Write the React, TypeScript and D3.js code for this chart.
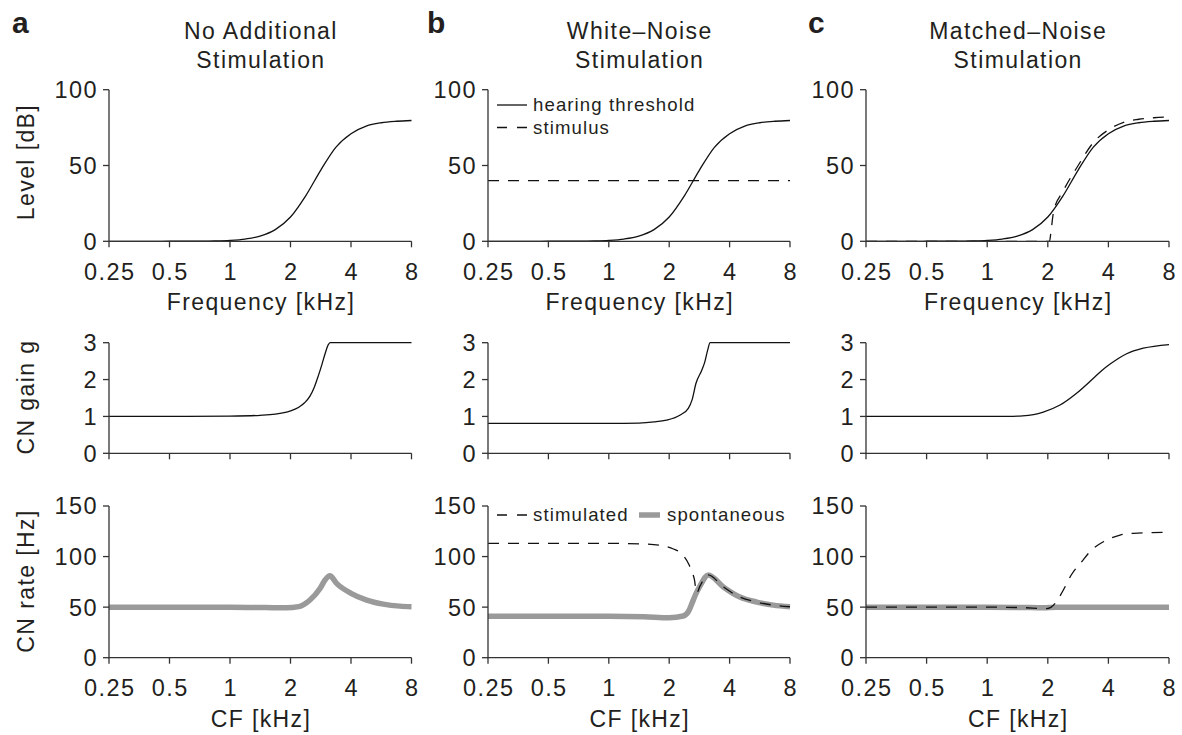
import React from "react";
import * as d3 from "d3";

// frequency axis (kHz, log2)
const FREQ_TICKS = [0.25, 0.5, 1, 2, 4, 8];
const FREQ_LABELS = ["0.25", "0.5", "1", "2", "4", "8"];

// hearing threshold (same in all three columns)
const THR_F = [0.25, 0.297, 0.354, 0.42, 0.5, 0.595, 0.707, 0.841, 1, 1.19, 1.41, 1.68, 2, 2.38, 2.83, 3.36, 4, 4.76, 5.66, 6.73, 8];
const THR_DB = [0, 0, 0, 0, 0.02, 0.05, 0.11, 0.27, 0.63, 1.5, 3.4, 7.7, 16, 30, 47, 62, 71, 76, 78.2, 79.2, 79.7];

// stimulus levels
const WHITE_F = [0.25, 8];
const WHITE_DB = [40, 40];
const MATCHED_F = [0.25, 1, 2.04, 2.08, 2.14, 2.38, 2.83, 3.36, 4, 4.76, 5.66, 6.73, 8];
const MATCHED_DB = [0, 0, 0, 8, 20, 33, 50, 65, 73.5, 78.5, 80.5, 81.5, 82];

// CN gain g
const GAIN_A_F = [0.25, 0.5, 1, 1.41, 1.68, 2, 2.2, 2.35, 2.5, 2.63, 2.75, 2.87, 2.98, 3.08, 3.15, 8];
const GAIN_A = [1, 1, 1.01, 1.03, 1.06, 1.15, 1.25, 1.37, 1.55, 1.8, 2.1, 2.42, 2.72, 2.94, 3, 3];
const GAIN_B_F = [0.25, 1, 1.41, 1.68, 1.94, 2.27, 2.49, 2.6, 2.72, 2.91, 3.01, 3.11, 3.2, 8];
const GAIN_B = [0.81, 0.81, 0.82, 0.85, 0.9, 1.04, 1.22, 1.45, 1.9, 2.26, 2.48, 2.8, 3, 3];
const GAIN_C_F = [0.25, 1, 1.25, 1.5, 1.7, 1.9, 2.3, 2.78, 3.36, 3.7, 4.08, 4.5, 4.93, 5.96, 8];
const GAIN_C = [1, 1, 1.003, 1.015, 1.05, 1.12, 1.31, 1.63, 2.03, 2.24, 2.42, 2.58, 2.7, 2.85, 2.95];

// CN rate (Hz)
const SPONT_A_F = [0.25, 1, 1.5, 1.9, 2.2, 2.5, 2.81, 2.97, 3.14, 3.39, 4, 4.79, 5.79, 7, 8];
const SPONT_A = [50, 50, 49.6, 49.3, 50.5, 57, 68.6, 76.8, 81, 73.5, 63.7, 57, 53, 51, 50.5];
const SPONT_B_F = [0.25, 1, 1.5, 2, 2.35, 2.5, 2.6, 2.7, 2.85, 3.13, 3.72, 4.5, 5.46, 6.6, 8];
const SPONT_B = [41, 41, 40.5, 39.5, 41.2, 46, 54, 62, 71, 81.8, 70, 60, 55, 52, 50.4];
const STIM_B_F = [0.25, 1, 1.5, 1.87, 2.1, 2.27, 2.5, 2.62, 2.67, 2.74, 2.85, 3.13, 3.72, 4.5, 5.46, 6.6, 8];
const STIM_B = [113, 113, 112.5, 110.5, 107.5, 104, 92.7, 83, 77.5, 64, 71, 81.8, 70, 60, 55, 52, 50.4];
const SPONT_C_F = [0.25, 1, 1.5, 1.9, 2.2, 8];
const SPONT_C = [50, 50, 49.7, 49.3, 50, 50];
const STIM_C_F = [0.25, 1, 1.5, 1.97, 2.08, 2.2, 2.39, 2.62, 2.95, 3.3, 3.78, 4.57, 5.32, 8];
const STIM_C = [50, 50, 49.5, 48.5, 50, 55, 67, 82, 95, 106.5, 114.7, 121.3, 123, 124];

const TITLES = [["No Additional", "Stimulation"], ["White\u2013Noise", "Stimulation"], ["Matched\u2013Noise", "Stimulation"]];
const LETTERS = ["a", "b", "c"];

const FONT = '"Liberation Sans", Arial, Helvetica, sans-serif';
const INK = "#231f20";
const GRAY = "#9a9a9a";

// layout
const COL_X = [[109, 411.5], [488, 790], [866, 1169]];
const LETTER_X = [12, 427, 808];
const ROWS = [
  { y: [241.3, 89.7], domain: [0, 100], ticks: [0, 50, 100], label: "Level [dB]", labelY: 162, xLabel: "Frequency [kHz]" },
  { y: [453.3, 342.7], domain: [0, 3], ticks: [0, 1, 2, 3], label: "CN gain g", labelY: 397, xLabel: null },
  { y: [657.7, 506], domain: [0, 150], ticks: [0, 50, 100, 150], label: "CN rate [Hz]", labelY: 581, xLabel: "CF [kHz]" },
];

type Series = { f: number[]; v: number[]; kind: "solid" | "dashed" | "gray" };

const SERIES: Series[][][] = [
  [
    [{ f: THR_F, v: THR_DB, kind: "solid" }],
    [{ f: WHITE_F, v: WHITE_DB, kind: "dashed" }, { f: THR_F, v: THR_DB, kind: "solid" }],
    [{ f: MATCHED_F, v: MATCHED_DB, kind: "dashed" }, { f: THR_F, v: THR_DB, kind: "solid" }],
  ],
  [
    [{ f: GAIN_A_F, v: GAIN_A, kind: "solid" }],
    [{ f: GAIN_B_F, v: GAIN_B, kind: "solid" }],
    [{ f: GAIN_C_F, v: GAIN_C, kind: "solid" }],
  ],
  [
    [{ f: SPONT_A_F, v: SPONT_A, kind: "gray" }],
    [{ f: SPONT_B_F, v: SPONT_B, kind: "gray" }, { f: STIM_B_F, v: STIM_B, kind: "dashed" }],
    [{ f: SPONT_C_F, v: SPONT_C, kind: "gray" }, { f: STIM_C_F, v: STIM_C, kind: "dashed" }],
  ],
];

const T = ({ x, y, size = 23, ls = 1.4, anchor = "start", weight = "normal", rotate = 0, children }: any) => (
  <text
    transform={`translate(${x},${y})${rotate ? ` rotate(${rotate})` : ""}`}
    fontFamily={FONT}
    fontSize={size}
    fontWeight={weight}
    letterSpacing={ls}
    textAnchor={anchor}
    fill={INK}
  >
    {children}
  </text>
);

const Panel = ({ row, col }: { row: number; col: number }) => {
  const r = ROWS[row];
  const [x0, x1] = COL_X[col];
  const x = d3.scaleLog().base(2).domain([0.25, 8]).range([x0, x1]);
  const y = d3.scaleLinear().domain(r.domain).range(r.y);
  const yb = r.y[0];
  const yt = r.y[1];

  return (
    <g>
      {SERIES[row][col].map((s, i) => {
        const line = d3
          .line<number>()
          .x((_, k) => x(s.f[k]))
          .y((d) => y(d))
          .curve(d3.curveMonotoneX);
        return (
          <path
            key={i}
            d={line(s.v) || ""}
            fill="none"
            stroke={s.kind === "gray" ? GRAY : "#111"}
            strokeWidth={s.kind === "gray" ? 5.5 : 1.3}
            strokeDasharray={s.kind === "dashed" ? "11,9" : undefined}
            strokeLinejoin="round"
          />
        );
      })}
      <path d={`M${x0},${yt}V${yb}H${x1}`} fill="none" stroke="#333" strokeWidth={1.3} />
      {r.ticks.map((t) => (
        <g key={"y" + t}>
          <line x1={x0 - 6} x2={x0} y1={y(t)} y2={y(t)} stroke="#333" strokeWidth={1.3} />
          <T x={x0 - 11} y={y(t) + 8.4} anchor="end" size={23.5}>
            {t}
          </T>
        </g>
      ))}
      {FREQ_TICKS.map((t, i) => (
        <g key={"x" + t}>
          <line x1={x(t)} x2={x(t)} y1={yb} y2={yb + 6} stroke="#333" strokeWidth={1.3} />
          {r.xLabel && (
            <T x={x(t) + 0.7} y={yb + 38.7} anchor="middle" size={23.5}>
              {FREQ_LABELS[i]}
            </T>
          )}
        </g>
      ))}
      {r.xLabel && (
        <T x={(x0 + x1) / 2 + 0.7} y={yb + 69} anchor="middle">
          {r.xLabel}
        </T>
      )}
    </g>
  );
};

export default function App() {
  const W = 1182;
  const H = 735;
  return (
    <svg width={W} height={H} style={{ position: "absolute", left: 0, top: 0, background: "#fff" }}>
      <rect width={W} height={H} fill="#fff" />
      {COL_X.map(([x0, x1], c) => (
        <g key={"t" + c}>
          <T x={LETTER_X[c]} y={33} size={30} ls={0} weight="bold">
            {LETTERS[c]}
          </T>
          <T x={(x0 + x1) / 2 + 0.7} y={39} anchor="middle">
            {TITLES[c][0]}
          </T>
          <T x={(x0 + x1) / 2 + 0.7} y={68} anchor="middle">
            {TITLES[c][1]}
          </T>
        </g>
      ))}
      {ROWS.map((r, ri) => (
        <T key={"yl" + ri} x={34} y={r.labelY} anchor="middle" rotate={-90}>
          {r.label}
        </T>
      ))}
      {ROWS.map((_, ri) => COL_X.map((_, ci) => <Panel key={ri + "-" + ci} row={ri} col={ci} />))}

      {/* legend, panel b top */}
      <line x1={497} x2={527} y1={105} y2={105} stroke="#111" strokeWidth={1.3} />
      <T x={533} y={111} size={18.6} ls={1.1}>hearing threshold</T>
      <line x1={497} x2={527} y1={127.5} y2={127.5} stroke="#111" strokeWidth={1.3} strokeDasharray="10,10" />
      <T x={533} y={133.5} size={18.6} ls={1.1}>stimulus</T>

      {/* legend, panel b bottom */}
      <line x1={497} x2={527} y1={515} y2={515} stroke="#111" strokeWidth={1.3} strokeDasharray="10,10" />
      <T x={533} y={520.5} size={18.6} ls={1.1}>stimulated</T>
      <line x1={639} x2={660} y1={515} y2={515} stroke={GRAY} strokeWidth={5.5} />
      <T x={667} y={520.5} size={18.6} ls={1.1}>spontaneous</T>
    </svg>
  );
}
